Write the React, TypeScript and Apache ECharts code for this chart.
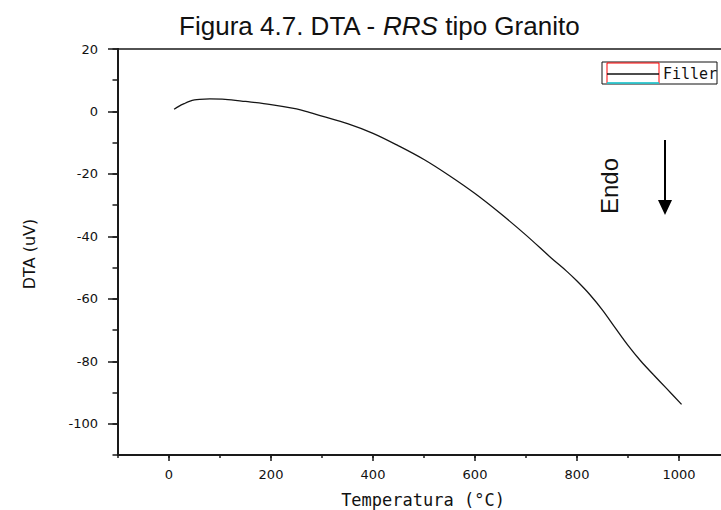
import React, { useEffect, useRef } from "react";
import * as echarts from "echarts";

const chartTitle = ["Figura 4.7. DTA - ", "RRS", " tipo Granito"];
const xAxisTitle = "Temperatura (°C)";
const yAxisTitle = "DTA (uV)";
const seriesName = "Filler";
const annotation = "Endo";

const temperature = [10, 20, 30, 40, 50, 60, 80, 110, 150, 200, 250, 275, 300, 350, 400, 450, 500, 550, 600, 650, 700, 750, 780, 800, 825, 850, 875, 900, 925, 950, 975, 1005];
const dta = [0.7, 1.7, 2.5, 3.2, 3.7, 3.9, 4.0, 3.9, 3.2, 2.2, 0.8, -0.3, -1.5, -3.9, -7.0, -11.0, -15.4, -20.6, -26.3, -32.7, -39.6, -47.0, -51.2, -54.3, -58.6, -63.6, -69.3, -74.9, -79.9, -84.3, -88.6, -93.8];

const xMajorTicks = [0, 200, 400, 600, 800, 1000];
const yMajorTicks = [-100, -80, -60, -40, -20, 0, 20];

export default function App() {
  const ref = useRef<HTMLDivElement>(null);
  useEffect(() => {
    if (!ref.current) return;
    const chart = echarts.init(ref.current, undefined, { renderer: "svg" });
    const axisColor = "#1a1a1a";
    const labelStyle = {
      color: "#111",
      fontFamily: "DejaVu Sans",
      fontSize: 13,
      formatter: (v: number) => String(v),
    };
    chart.setOption({
      animation: false,
      backgroundColor: "#ffffff",
      grid: {
        left: 118,
        right: -9,
        top: 49,
        bottom: 55,
        outerBoundsMode: "none",
        containLabel: false,
        show: true,
        borderColor: axisColor,
        borderWidth: 1.5,
        backgroundColor: "transparent",
      },
      xAxis: [
        {
          type: "value",
          position: "bottom",
          offset: 0,
          min: -100,
          max: 1100,
          interval: 100,
          axisLine: { show: true, onZero: false, lineStyle: { color: axisColor, width: 2 } },
          axisTick: { show: true, inside: false, length: 3, lineStyle: { color: axisColor, width: 1.5 } },
          axisLabel: { show: false },
          splitLine: { show: false },
        },
        {
          type: "value",
          position: "bottom",
          offset: 0,
          min: -100,
          max: 1100,
          interval: 100,
          axisLine: { show: false, onZero: false },
          axisTick: { show: true, inside: false, length: 6, customValues: xMajorTicks, lineStyle: { color: axisColor, width: 1.5 } },
          axisLabel: { show: true, margin: 13, customValues: xMajorTicks, ...labelStyle },
          splitLine: { show: false },
        },
      ],
      yAxis: [
        {
          type: "value",
          position: "left",
          offset: 0,
          min: -110,
          max: 20,
          interval: 10,
          axisLine: { show: true, onZero: false, lineStyle: { color: axisColor, width: 2 } },
          axisTick: { show: true, inside: false, length: 5.5, lineStyle: { color: axisColor, width: 1.5 } },
          axisLabel: { show: false },
          splitLine: { show: false },
        },
        {
          type: "value",
          position: "left",
          offset: 0,
          min: -110,
          max: 20,
          interval: 10,
          axisLine: { show: true, onZero: false, lineStyle: { color: axisColor, width: 2 } },
          axisTick: { show: true, inside: false, length: 10, customValues: yMajorTicks, lineStyle: { color: axisColor, width: 1.5 } },
          axisLabel: { show: true, margin: 20, customValues: yMajorTicks, ...labelStyle },
          splitLine: { show: false },
        },
      ],
      series: [
        {
          name: seriesName,
          type: "line",
          xAxisIndex: 0,
          yAxisIndex: 0,
          data: temperature.map((t, i) => [t, dta[i]]),
          showSymbol: false,
          smooth: 0.35,
          lineStyle: { color: "#151515", width: 1.3 },
        },
      ],
      graphic: [
        {
          type: "text",
          x: 379,
          y: 26,
          style: {
            text: `{n|${chartTitle[0]}}{i|${chartTitle[1]}}{n|${chartTitle[2]}}`,
            align: "center",
            verticalAlign: "middle",
            rich: {
              n: { fontFamily: "Liberation Sans", fontSize: 26, fill: "#111", color: "#111" },
              i: { fontFamily: "Liberation Sans", fontSize: 26, fontStyle: "italic", fill: "#111", color: "#111" },
            },
          },
        },
        {
          type: "text",
          x: 423,
          y: 500,
          style: {
            text: xAxisTitle,
            align: "center",
            verticalAlign: "middle",
            fontFamily: "DejaVu Sans Mono",
            fontSize: 17,
            fill: "#111",
          },
        },
        {
          type: "text",
          x: 29,
          y: 254,
          rotation: Math.PI / 2,
          style: {
            text: yAxisTitle,
            align: "center",
            verticalAlign: "middle",
            fontFamily: "DejaVu Sans",
            fontSize: 16,
            fill: "#111",
          },
        },
        {
          type: "rect",
          shape: { x: 602, y: 62, width: 115, height: 22 },
          style: { fill: "#fff", stroke: "#111", lineWidth: 1 },
        },
        {
          type: "rect",
          shape: { x: 607, y: 63, width: 52, height: 20 },
          style: { fill: "none", stroke: "#ff0000", lineWidth: 1 },
        },
        {
          type: "line",
          shape: { x1: 607, y1: 74, x2: 659, y2: 74 },
          style: { stroke: "#111", lineWidth: 1.3 },
        },
        {
          type: "line",
          shape: { x1: 607, y1: 83, x2: 659, y2: 83 },
          style: { stroke: "#00e5ee", lineWidth: 1.5 },
        },
        {
          type: "text",
          x: 663,
          y: 74,
          style: {
            text: seriesName,
            align: "left",
            verticalAlign: "middle",
            fontFamily: "DejaVu Sans Mono",
            fontSize: 15,
            fill: "#111",
          },
        },
        {
          type: "text",
          x: 609,
          y: 186,
          rotation: Math.PI / 2,
          style: {
            text: annotation,
            align: "center",
            verticalAlign: "middle",
            fontFamily: "Liberation Sans",
            fontSize: 24,
            fill: "#111",
          },
        },
        {
          type: "line",
          shape: { x1: 665, y1: 140, x2: 665, y2: 203 },
          style: { stroke: "#000", lineWidth: 2 },
        },
        {
          type: "polygon",
          shape: { points: [[658, 200], [672, 200], [665, 215]] },
          style: { fill: "#000" },
        },
      ],
    });
    return () => chart.dispose();
  }, []);
  return <div ref={ref} style={{ position: "fixed", left: 0, top: 0, width: 721, height: 510 }} />;
}
